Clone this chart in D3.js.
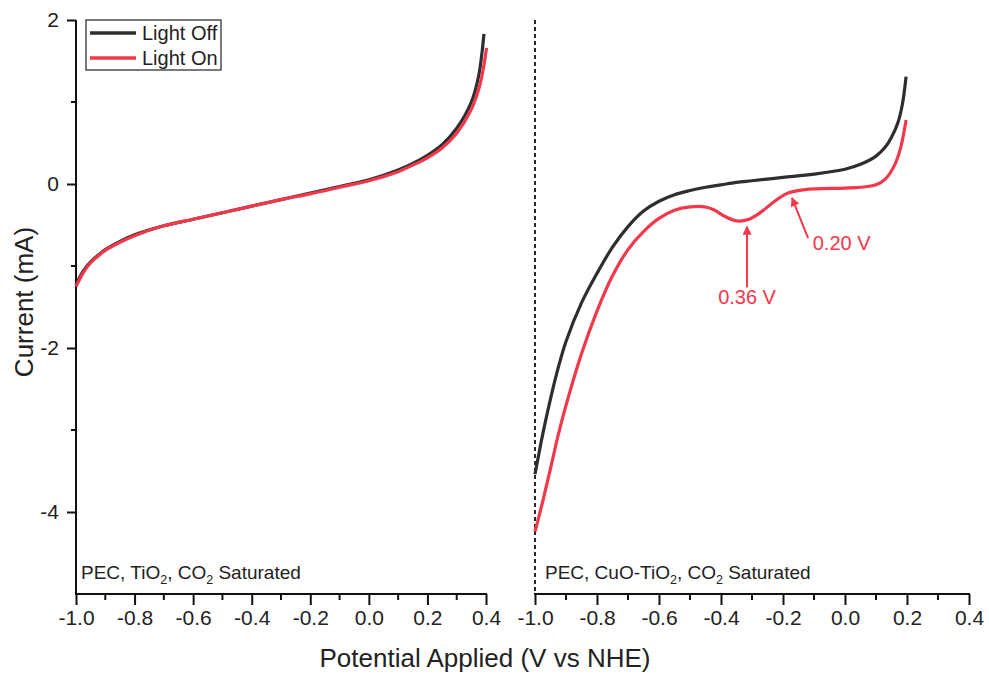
<!DOCTYPE html>
<html>
<head>
<meta charset="utf-8">
<script src="https://cdn.jsdelivr.net/npm/d3@7"></script>
<style>
  html, body { margin: 0; padding: 0; background: #fff; }
  svg { display: block; font-family: Arial, "Liberation Sans", Helvetica, sans-serif; }
</style>
</head>
<body>
<svg id="chart" width="989" height="675"></svg>
<script>
// Potential (V vs NHE) and current (mA) readings for each electrode
const tio2Off = [
  [-1.0, -1.23], [-0.975, -1.06], [-0.95, -0.95], [-0.925, -0.87], [-0.9, -0.80],
  [-0.85, -0.70], [-0.8, -0.62], [-0.7, -0.51], [-0.6, -0.43], [-0.5, -0.35],
  [-0.4, -0.27], [-0.3, -0.19], [-0.2, -0.11], [-0.1, -0.03], [0.0, 0.05],
  [0.1, 0.17], [0.15, 0.25], [0.2, 0.35], [0.25, 0.48], [0.3, 0.68],
  [0.35, 1.00], [0.375, 1.32], [0.393, 1.83]
];
const tio2On = [
  [-1.0, -1.25], [-0.975, -1.08], [-0.95, -0.96], [-0.925, -0.88], [-0.9, -0.81],
  [-0.85, -0.71], [-0.8, -0.63], [-0.7, -0.51], [-0.6, -0.43], [-0.5, -0.35],
  [-0.4, -0.27], [-0.3, -0.19], [-0.2, -0.12], [-0.1, -0.04], [0.0, 0.04],
  [0.1, 0.15], [0.15, 0.23], [0.2, 0.32], [0.25, 0.44], [0.3, 0.62],
  [0.35, 0.91], [0.38, 1.22], [0.402, 1.66]
];
const cuoOff = [
  [-1.0, -3.54], [-0.975, -3.05], [-0.95, -2.62], [-0.925, -2.24], [-0.9, -1.92],
  [-0.85, -1.45], [-0.8, -1.09], [-0.75, -0.77], [-0.7, -0.52], [-0.65, -0.33],
  [-0.6, -0.21], [-0.55, -0.13], [-0.5, -0.08], [-0.45, -0.04], [-0.4, -0.01],
  [-0.35, 0.02], [-0.3, 0.04], [-0.2, 0.08], [-0.1, 0.12], [0.0, 0.18],
  [0.05, 0.24], [0.1, 0.34], [0.13, 0.45], [0.15, 0.57], [0.17, 0.74],
  [0.185, 0.97], [0.197, 1.31]
];
const cuoOn = [
  [-1.0, -4.24], [-0.975, -3.87], [-0.95, -3.47], [-0.925, -3.06], [-0.9, -2.70],
  [-0.85, -2.07], [-0.8, -1.55], [-0.75, -1.12], [-0.7, -0.80], [-0.65, -0.58],
  [-0.6, -0.42], [-0.55, -0.32], [-0.5, -0.28], [-0.45, -0.28], [-0.42, -0.32],
  [-0.39, -0.39], [-0.35, -0.45], [-0.31, -0.43], [-0.27, -0.34], [-0.23, -0.22],
  [-0.19, -0.12], [-0.15, -0.08], [-0.1, -0.06], [0.0, -0.05], [0.05, -0.04],
  [0.1, -0.01], [0.13, 0.06], [0.16, 0.23], [0.18, 0.45], [0.197, 0.78]
];

const xTicks = [-1.0, -0.8, -0.6, -0.4, -0.2, 0.0, 0.2, 0.4];
const xMinor = [-0.9, -0.7, -0.5, -0.3, -0.1, 0.1, 0.3];
const yTicks = [2, 0, -2, -4];
const yMinor = [1, -1, -3];
const seriesNames = ["Light Off", "Light On"];
const seriesColors = ["#2e2e30", "#f2384a"];

// Peak markers on the illuminated CuO-TiO2 sweep
const peaks = [
  { label: "0.36 V", tail: [-0.316, -1.26], tip: [-0.316, -0.52], text: [-0.316, -1.46], anchor: "middle" },
  { label: "0.20 V", tail: [-0.119, -0.66], tip: [-0.171, -0.17], text: [-0.104, -0.80], anchor: "start" }
];

const svg = d3.select("#chart");
const red = seriesColors[1];

const y = d3.scaleLinear().domain([-5, 2]).range([594, 20]);
const xL = d3.scaleLinear().domain([-1, 0.4]).range([76, 486]);
const xR = d3.scaleLinear().domain([-1, 0.4]).range([535, 969]);

svg.append("defs").append("marker")
  .attr("id", "arrow")
  .attr("viewBox", "0 0 10 10")
  .attr("refX", 9).attr("refY", 5)
  .attr("markerWidth", 5.5).attr("markerHeight", 4.5)
  .attr("markerUnits", "strokeWidth")
  .attr("orient", "auto")
  .append("path").attr("d", "M0,0 L10,5 L0,10 Z").attr("fill", red);

function fmt(d) { return d === 0 ? "0.0" : d3.format(".1f")(d).replace("−", "-"); }

// Bottom axis of a panel: major ticks labelled, minor ticks between
function bottomAxis(x) {
  const g = svg.append("g").attr("transform", "translate(0,594)");
  g.call(d3.axisBottom(x).tickValues(xTicks).tickSize(11).tickPadding(5).tickFormat(fmt));
  g.call(gg => gg.select(".domain").remove());
  g.append("line").attr("x1", x.range()[0] - 1).attr("x2", x.range()[1] + 1)
    .attr("stroke", "#111").attr("stroke-width", 2);
  g.selectAll(".tick line").attr("stroke", "#111").attr("stroke-width", 2);
  g.selectAll(".tick text").attr("font-size", 21).attr("fill", "#222")
    .attr("font-family", "Arial, 'Liberation Sans', sans-serif");
  g.selectAll(".minor").data(xMinor).enter().append("line")
    .attr("x1", d => x(d)).attr("x2", d => x(d)).attr("y1", 0).attr("y2", 6)
    .attr("stroke", "#111").attr("stroke-width", 2);
}
bottomAxis(xL);
bottomAxis(xR);

// Left current axis
const ya = svg.append("g").attr("transform", "translate(76,0)");
ya.call(d3.axisLeft(y).tickValues(yTicks).tickSize(9).tickPadding(8).tickFormat(d => String(d).replace("−", "-")));
ya.select(".domain").remove();
ya.append("line").attr("y1", 20).attr("y2", 595).attr("stroke", "#111").attr("stroke-width", 2);
ya.selectAll(".tick line").attr("stroke", "#111").attr("stroke-width", 2);
ya.selectAll(".tick text").attr("font-size", 21).attr("fill", "#222")
  .attr("font-family", "Arial, 'Liberation Sans', sans-serif");
ya.selectAll(".minor").data(yMinor).enter().append("line")
  .attr("x1", -5).attr("x2", 0).attr("y1", d => y(d)).attr("y2", d => y(d))
  .attr("stroke", "#111").attr("stroke-width", 2);

// Dashed boundary of the right panel at -1.0 V
svg.append("line")
  .attr("x1", xR(-1)).attr("x2", xR(-1)).attr("y1", y(2)).attr("y2", y(-5))
  .attr("stroke", "#111").attr("stroke-width", 1.8).attr("stroke-dasharray", "4,3");

// Curves
const lineL = d3.line().x(d => xL(d[0])).y(d => y(d[1])).curve(d3.curveCatmullRom.alpha(0.5));
const lineR = d3.line().x(d => xR(d[0])).y(d => y(d[1])).curve(d3.curveCatmullRom.alpha(0.5));

[[tio2Off, lineL, 0], [tio2On, lineL, 1], [cuoOff, lineR, 0], [cuoOn, lineR, 1]].forEach(([data, ln, i]) => {
  svg.append("path").datum(data).attr("d", ln)
    .attr("fill", "none").attr("stroke", seriesColors[i])
    .attr("stroke-width", 3.2).attr("stroke-linejoin", "round").attr("stroke-linecap", "butt");
});

// Peak arrows and labels
peaks.forEach(p => {
  svg.append("line")
    .attr("x1", xR(p.tail[0])).attr("y1", y(p.tail[1]))
    .attr("x2", xR(p.tip[0])).attr("y2", y(p.tip[1]))
    .attr("stroke", red).attr("stroke-width", 2).attr("marker-end", "url(#arrow)");
  svg.append("text")
    .attr("x", xR(p.text[0])).attr("y", y(p.text[1]))
    .attr("text-anchor", p.anchor).attr("font-size", 20).attr("fill", red)
    .text(p.label);
});

// Panel captions with subscripts
function caption(x0, parts) {
  const t = svg.append("text").attr("x", x0).attr("y", 579)
    .attr("font-size", 19).attr("fill", "#222");
  let lowered = false;
  parts.forEach(([s, sub]) => {
    const ts = t.append("tspan").text(s);
    if (sub) { ts.attr("font-size", 12.5).attr("dy", 5); lowered = true; }
    else if (lowered) { ts.attr("dy", -5); lowered = false; }
  });
}
caption(81, [["PEC, TiO"], ["2", true], [", CO"], ["2", true], [" Saturated"]]);
caption(545, [["PEC, CuO-TiO"], ["2", true], [", CO"], ["2", true], [" Saturated"]]);

// Axis titles
svg.append("text").attr("x", 485).attr("y", 667).attr("text-anchor", "middle")
  .attr("font-size", 26).attr("fill", "#222").text("Potential Applied (V vs NHE)");
svg.append("text").attr("transform", "translate(33,302) rotate(-90)")
  .attr("text-anchor", "middle").attr("font-size", 26).attr("fill", "#222").text("Current (mA)");

// Legend
const lg = svg.append("g");
lg.append("rect").attr("x", 86).attr("y", 20).attr("width", 135).attr("height", 50)
  .attr("fill", "#fff").attr("stroke", "#222").attr("stroke-width", 1.2);
seriesNames.forEach((name, i) => {
  const yy = 33 + i * 25;
  lg.append("line").attr("x1", 90).attr("x2", 136).attr("y1", yy).attr("y2", yy)
    .attr("stroke", seriesColors[i]).attr("stroke-width", 3.5);
  lg.append("text").attr("x", 142).attr("y", yy + 7).attr("font-size", 20).attr("fill", "#222").text(name);
});
</script>
</body>
</html>
